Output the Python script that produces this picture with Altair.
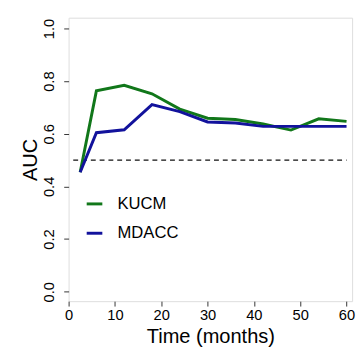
import altair as alt
import pandas as pd

months = [2.5, 6, 12, 18, 24, 30, 36, 42, 48, 54, 60]
kucm = [0.454, 0.763, 0.784, 0.752, 0.694, 0.659, 0.654, 0.637, 0.614, 0.657, 0.647]
mdacc = [0.454, 0.604, 0.615, 0.711, 0.684, 0.645, 0.641, 0.628, 0.628, 0.628, 0.628]
series = ["KUCM", "MDACC"]
colors = ["#11771a", "#12129c"]
ref_x = [1, 60]
ref_y = [0.5, 0.5]

rows = []
for m, k in zip(months, kucm):
    rows.append({"month": m, "auc": k, "cohort": "KUCM"})
for m, v in zip(months, mdacc):
    rows.append({"month": m, "auc": v, "cohort": "MDACC"})
df = pd.DataFrame(rows)
ref = pd.DataFrame({"month": ref_x, "auc": ref_y})

FONT = "Liberation Sans"
xscale = alt.Scale(domain=[0, 61.2], nice=False, zero=False)
yscale = alt.Scale(domain=[-0.036, 1.041], nice=False, zero=False)

xaxis = alt.Axis(values=[0, 10, 20, 30, 40, 50, 60], title="Time (months)",
                 grid=False, domain=False, tickSize=5, tickColor="#333",
                 labelFontSize=15, labelFont=FONT, labelColor="#000",
                 labelPadding=2, titleFont=FONT, titleFontSize=20.5,
                 titleFontWeight="normal", titleColor="#000", titlePadding=4,
                 labelFlush=False, labelOverlap=False)
yaxis = alt.Axis(values=[0, 0.2, 0.4, 0.6, 0.8, 1.0], format=".1f", title="AUC",
                 grid=False, domain=False, tickSize=5, tickColor="#333",
                 labelFontSize=15, labelFont=FONT, labelColor="#000",
                 labelAngle=270, labelAlign="center", labelBaseline="bottom",
                 labelPadding=7, titleFont=FONT, titleFontSize=20.5,
                 titleFontWeight="normal", titleColor="#000", titlePadding=2,
                 labelFlush=False, labelOverlap=False)

dashed = alt.Chart(ref).mark_line(color="#111", strokeDash=[5, 4], strokeWidth=1.2).encode(
    x=alt.X("month:Q", scale=xscale, axis=xaxis),
    y=alt.Y("auc:Q", scale=yscale, axis=yaxis),
)

lines = alt.Chart(df).mark_line(strokeWidth=3).encode(
    x=alt.X("month:Q", scale=xscale, axis=xaxis),
    y=alt.Y("auc:Q", scale=yscale, axis=yaxis),
    color=alt.Color("cohort:N", scale=alt.Scale(domain=series, range=colors),
                    legend=alt.Legend(title=None, orient="none", legendX=17, legendY=181,
                                      symbolType="stroke", symbolSize=256,
                                      symbolStrokeWidth=3, labelFontSize=17,
                                      labelFont=FONT, labelColor="#000",
                                      labelOffset=14, rowPadding=12)),
    order=alt.Order("month:Q"),
)

chart = alt.layer(dashed, lines).properties(
    width=290, height=290,
    autosize=alt.AutoSizeParams(type="none"),
    padding={"left": 62, "top": 6, "right": 4, "bottom": 45},
).configure_view(stroke="#333", strokeWidth=1.2).configure(background="white")

chart.save("out.html", embed_options={"renderer": "svg", "actions": False})
